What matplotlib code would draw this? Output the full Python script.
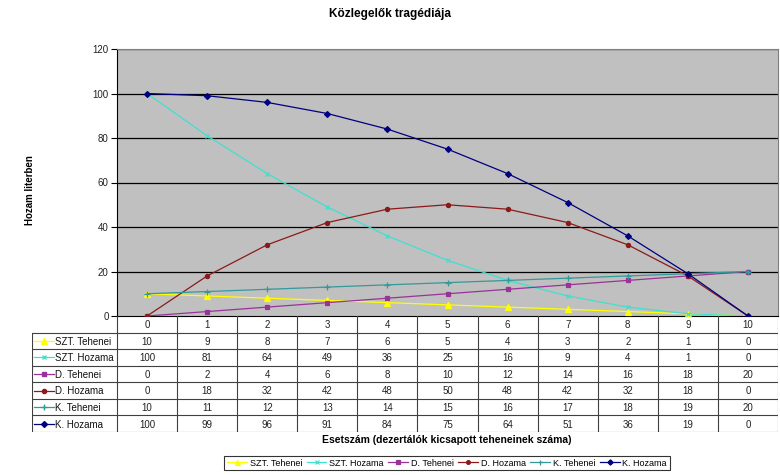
import matplotlib
matplotlib.use("Agg")
import matplotlib.pyplot as plt
from matplotlib import font_manager

names = {f.name for f in font_manager.fontManager.ttflist}
NARROW = 'Liberation Sans Narrow' if 'Liberation Sans Narrow' in names else 'Liberation Sans'
plt.rcParams['font.family'] = ['Liberation Sans', 'DejaVu Sans']

categories = [0, 1, 2, 3, 4, 5, 6, 7, 8, 9, 10]
szt_tehenei = [10, 9, 8, 7, 6, 5, 4, 3, 2, 1, 0]
szt_hozama = [100, 81, 64, 49, 36, 25, 16, 9, 4, 1, 0]
d_tehenei = [0, 2, 4, 6, 8, 10, 12, 14, 16, 18, 20]
d_hozama = [0, 18, 32, 42, 48, 50, 48, 42, 32, 18, 0]
k_tehenei = [10, 11, 12, 13, 14, 15, 16, 17, 18, 19, 20]
k_hozama = [100, 99, 96, 91, 84, 75, 64, 51, 36, 19, 0]
series_names = ['SZT. Tehenei', 'SZT. Hozama', 'D. Tehenei', 'D. Hozama', 'K. Tehenei', 'K. Hozama']
yticks = [0, 20, 40, 60, 80, 100, 120]

series = [szt_tehenei, szt_hozama, d_tehenei, d_hozama, k_tehenei, k_hozama]
styles = [
    dict(color='#FFFF00', marker='^', ms=4),
    dict(color='#40E0D0', marker='x', ms=2.5),
    dict(color='#993399', marker='s', ms=2.5),
    dict(color='#8B1A1A', marker='o', ms=3),
    dict(color='#339999', marker='+', ms=4),
    dict(color='#000080', marker='D', ms=3),
]

W, H = 780, 475
fig = plt.figure(figsize=(W / 100, H / 100), dpi=100)
fig.patch.set_facecolor('white')

L, R, T, B = 117, 778, 49, 316
ax = fig.add_axes([L / W, 1 - B / H, (R - L) / W, (B - T) / H])
ax.set_facecolor('#C0C0C0')
for y in yticks[1:]:
    ax.axhline(y, color='black', lw=0.9, zorder=1)
handles = []
for s, st, nm in zip(series, styles, series_names):
    h, = ax.plot(categories, s, color=st['color'], lw=0.9, marker=st['marker'],
                 ms=st['ms'], mfc=st['color'], mec=st['color'], mew=0.9, zorder=3, label=nm)
    handles.append(h)
ax.set_xlim(-0.5, len(categories) - 0.5)
ax.set_ylim(0, 120)
ax.set_yticks(yticks)
ax.set_yticklabels([str(v) for v in yticks], fontsize=7, color='#222222')
ax.set_xticks([])
ax.tick_params(axis='y', direction='out', length=4, width=0.8, pad=2)
for sp in ['top', 'right']:
    ax.spines[sp].set_color('#808080')
    ax.spines[sp].set_linewidth(0.8)
ax.spines['left'].set_color('black')
ax.spines['bottom'].set_color('black')
ax.spines['left'].set_linewidth(0.8)
ax.spines['bottom'].set_linewidth(0.8)

# data table
TL, TT, TB = 32, 316, 432
px_per_unit = (R - L) / len(categories)
x_left = -0.5 - (L - TL) / px_per_unit
tax = fig.add_axes([TL / W, 1 - TB / H, (R - TL) / W, (TB - TT) / H])
tax.set_xlim(x_left, len(categories) - 0.5)
nrows = len(series) + 1
tax.set_ylim(nrows, 0)
tax.axis('off')
lc = '#404040'
lw = 0.8
for i in range(len(categories) + 1):
    tax.plot([i - 0.5, i - 0.5], [0, nrows], color=lc, lw=lw)
tax.plot([x_left, x_left], [1, nrows], color=lc, lw=lw)
for r in range(1, nrows + 1):
    tax.plot([x_left, len(categories) - 0.5], [r, r], color=lc, lw=lw)
for i, c in enumerate(categories):
    tax.text(i, 0.55, str(c), ha='center', va='center', fontsize=7, color='#222222')
for r, (s, st, nm) in enumerate(zip(series, styles, series_names), start=1):
    for i, v in enumerate(s):
        tax.text(i, r + 0.55, str(v), ha='center', va='center', fontsize=7, color='#222222')
    kx0 = x_left + 0.03
    kx1 = x_left + 0.37
    tax.plot([kx0, kx1], [r + 0.5, r + 0.5], color=st['color'], lw=0.9)
    tax.plot([(kx0 + kx1) / 2], [r + 0.5], color=st['color'], marker=st['marker'],
             ms=st['ms'], mfc=st['color'], mec=st['color'])
    tax.text(kx1 + 0.01, r + 0.55, nm, ha='left', va='center', fontsize=7, color='#111111')

fig.text(390 / W, 1 - 14 / H, 'Közlegelők tragédiája', ha='center', va='center',
         fontsize=8.5, fontweight='bold', family=[NARROW, 'DejaVu Sans'])
fig.text(30 / W, 1 - 190 / H, 'Hozam literben', ha='center', va='center', rotation=90,
         fontsize=7, fontweight='bold', family=[NARROW, 'DejaVu Sans'])
fig.text(447 / W, 1 - 440 / H, 'Esetszám (dezertálók kicsapott teheneinek száma)',
         ha='center', va='center', fontsize=7.5, fontweight='bold', family=[NARROW, 'DejaVu Sans'])

leg = fig.legend(handles=handles, labels=series_names, loc='center', ncol=6,
                 bbox_to_anchor=(447 / W, 1 - 463 / H), fontsize=6.5, frameon=True,
                 fancybox=False, edgecolor='black', handlelength=2.2, handletextpad=0.3,
                 columnspacing=0.5, borderpad=0.3, markerscale=0.9)
leg.get_frame().set_linewidth(0.8)

fig.savefig('out.png', dpi=100, facecolor='white')
